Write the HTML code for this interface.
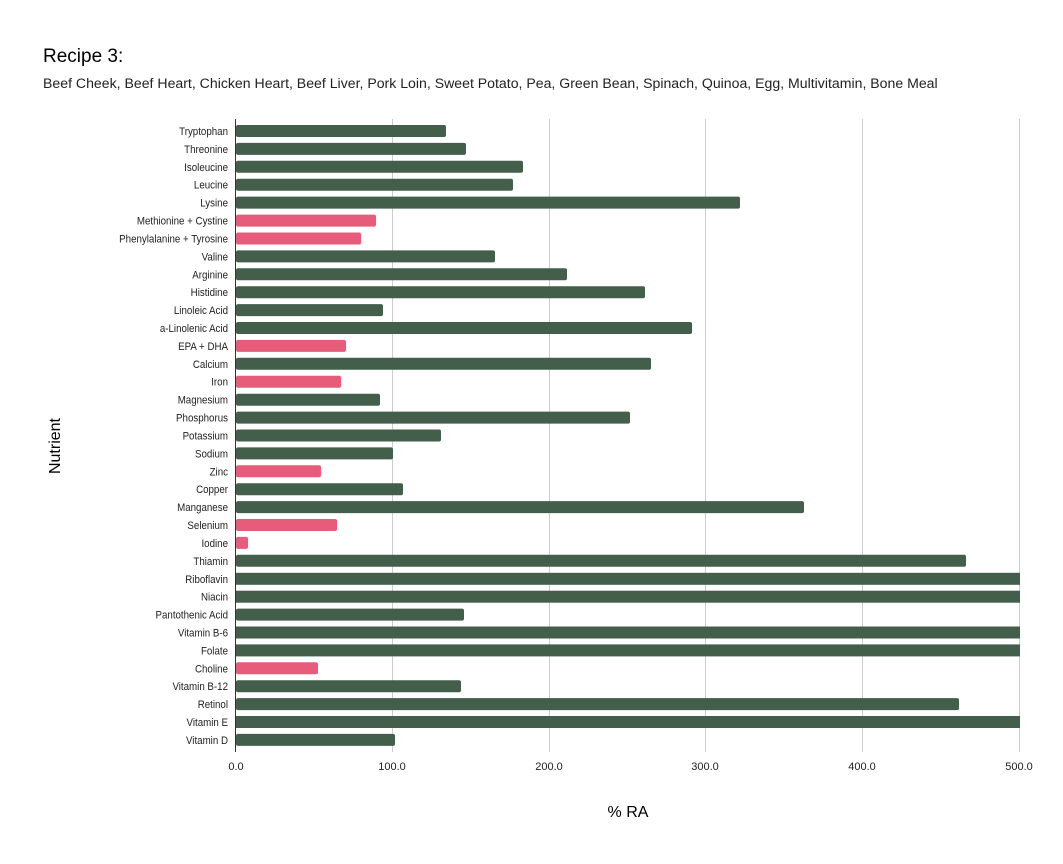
<!DOCTYPE html>
<html><head><meta charset="utf-8"><style>
body{margin:0;background:#fff}
svg{display:block;font-family:"Liberation Sans",sans-serif}
</style></head><body>
<svg width="1063" height="864" xmlns="http://www.w3.org/2000/svg">
<text x="43" y="62" font-size="19" fill="#000">Recipe 3:</text>
<text x="43" y="88" font-size="14.1" fill="#222">Beef Cheek, Beef Heart, Chicken Heart, Beef Liver, Pork Loin, Sweet Potato, Pea, Green Bean, Spinach, Quinoa, Egg, Multivitamin, Bone Meal</text>
<g stroke="#ccc" stroke-width="1">
<line x1="392.5" y1="119" x2="392.5" y2="752"/>
<line x1="549.5" y1="119" x2="549.5" y2="752"/>
<line x1="705.5" y1="119" x2="705.5" y2="752"/>
<line x1="862.5" y1="119" x2="862.5" y2="752"/>
<line x1="1019.5" y1="119" x2="1019.5" y2="752"/>
</g>
<g fill="#435e4a">
<rect x="236" y="125" width="210" height="12" rx="2"/>
<rect x="236" y="142.9" width="230" height="12" rx="2"/>
<rect x="236" y="160.8" width="287" height="12" rx="2"/>
<rect x="236" y="178.7" width="277" height="12" rx="2"/>
<rect x="236" y="196.6" width="504" height="12" rx="2"/>
<rect x="236" y="250.4" width="259" height="12" rx="2"/>
<rect x="236" y="268.3" width="331" height="12" rx="2"/>
<rect x="236" y="286.2" width="409" height="12" rx="2"/>
<rect x="236" y="304.1" width="147" height="12" rx="2"/>
<rect x="236" y="322.0" width="456" height="12" rx="2"/>
<rect x="236" y="357.8" width="415" height="12" rx="2"/>
<rect x="236" y="393.7" width="144" height="12" rx="2"/>
<rect x="236" y="411.6" width="394" height="12" rx="2"/>
<rect x="236" y="429.5" width="205" height="12" rx="2"/>
<rect x="236" y="447.4" width="157" height="12" rx="2"/>
<rect x="236" y="483.2" width="167" height="12" rx="2"/>
<rect x="236" y="501.1" width="568" height="12" rx="2"/>
<rect x="236" y="554.8" width="730" height="12" rx="2"/>
<rect x="236" y="572.8" width="784" height="12"/>
<rect x="236" y="590.7" width="784" height="12"/>
<rect x="236" y="608.6" width="228" height="12" rx="2"/>
<rect x="236" y="626.5" width="784" height="12"/>
<rect x="236" y="644.4" width="784" height="12"/>
<rect x="236" y="680.2" width="225" height="12" rx="2"/>
<rect x="236" y="698.1" width="723" height="12" rx="2"/>
<rect x="236" y="716.0" width="784" height="12"/>
<rect x="236" y="733.9" width="159" height="12" rx="2"/>
</g>
<g fill="#e85c7b">
<rect x="236" y="214.6" width="140" height="12" rx="2"/>
<rect x="236" y="232.5" width="125" height="12" rx="2"/>
<rect x="236" y="339.9" width="110" height="12" rx="2"/>
<rect x="236" y="375.7" width="105" height="12" rx="2"/>
<rect x="236" y="465.3" width="85" height="12" rx="2"/>
<rect x="236" y="519.0" width="101" height="12" rx="2"/>
<rect x="236" y="536.9" width="12" height="12" rx="2"/>
<rect x="236" y="662.3" width="82" height="12" rx="2"/>
</g>
<line x1="235.5" y1="119" x2="235.5" y2="752" stroke="#333" stroke-width="1"/>
<g font-size="11" fill="#222" text-anchor="middle">
<text x="236" y="770">0.0</text><text x="392" y="770">100.0</text><text x="549" y="770">200.0</text><text x="705" y="770">300.0</text><text x="862" y="770">400.0</text><text x="1019" y="770">500.0</text>
</g>
<text x="628" y="817" font-size="16" text-anchor="middle" fill="#000">% RA</text>
<text transform="translate(60,446) rotate(-90)" font-size="16" text-anchor="middle" fill="#000">Nutrient</text>
<g font-size="11" fill="#222" text-anchor="end" transform="translate(228,0) scale(0.886,1) translate(-228,0)">
<text x="228" y="135">Tryptophan</text>
<text x="228" y="152.9">Threonine</text>
<text x="228" y="170.8">Isoleucine</text>
<text x="228" y="188.7">Leucine</text>
<text x="228" y="206.6">Lysine</text>
<text x="228" y="224.6">Methionine + Cystine</text>
<text x="228" y="242.5">Phenylalanine + Tyrosine</text>
<text x="228" y="260.4">Valine</text>
<text x="228" y="278.3">Arginine</text>
<text x="228" y="296.2">Histidine</text>
<text x="228" y="314.1">Linoleic Acid</text>
<text x="228" y="332.0">a-Linolenic Acid</text>
<text x="228" y="349.9">EPA + DHA</text>
<text x="228" y="367.8">Calcium</text>
<text x="228" y="385.7">Iron</text>
<text x="228" y="403.7">Magnesium</text>
<text x="228" y="421.6">Phosphorus</text>
<text x="228" y="439.5">Potassium</text>
<text x="228" y="457.4">Sodium</text>
<text x="228" y="475.3">Zinc</text>
<text x="228" y="493.2">Copper</text>
<text x="228" y="511.1">Manganese</text>
<text x="228" y="529.0">Selenium</text>
<text x="228" y="546.9">Iodine</text>
<text x="228" y="564.8">Thiamin</text>
<text x="228" y="582.8">Riboflavin</text>
<text x="228" y="600.7">Niacin</text>
<text x="228" y="618.6">Pantothenic Acid</text>
<text x="228" y="636.5">Vitamin B-6</text>
<text x="228" y="654.4">Folate</text>
<text x="228" y="672.3">Choline</text>
<text x="228" y="690.2">Vitamin B-12</text>
<text x="228" y="708.1">Retinol</text>
<text x="228" y="726.0">Vitamin E</text>
<text x="228" y="743.9">Vitamin D</text>
</g>
</svg>
</body></html>
